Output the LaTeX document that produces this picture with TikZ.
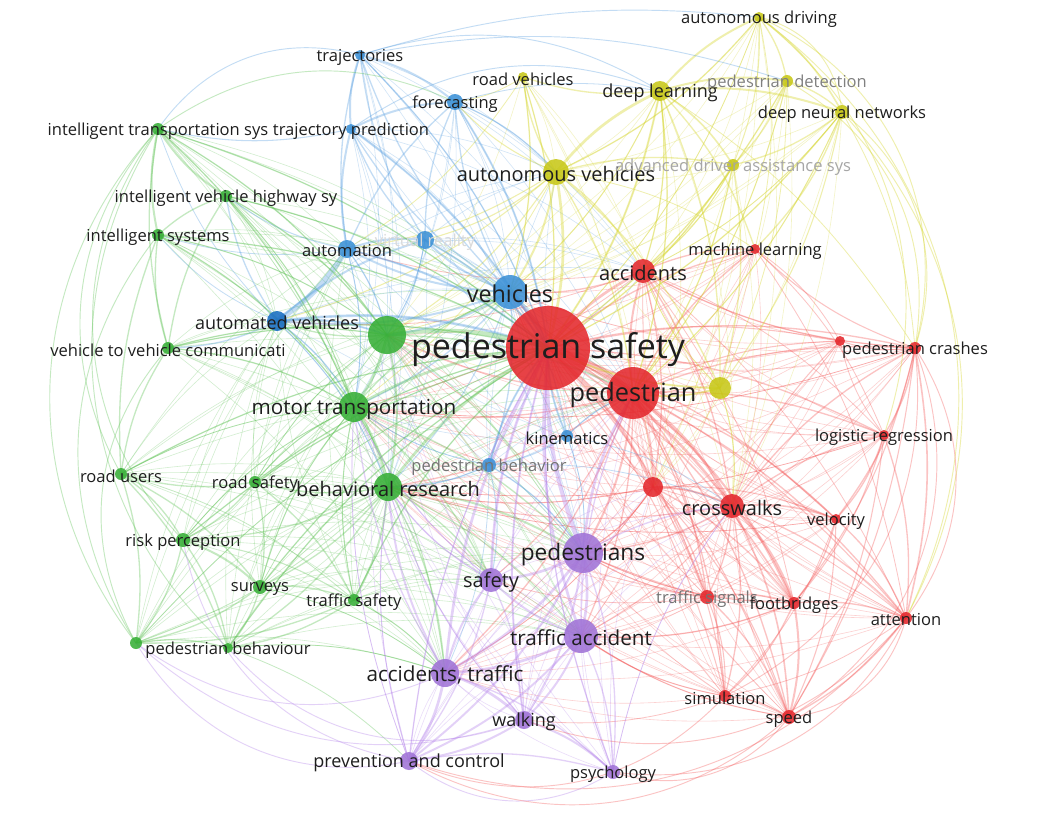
\documentclass[tikz,border=0pt]{standalone}
\usepackage{fontspec}
\setmainfont{Open Sans}
\pgfdeclarelayer{bg}
\pgfdeclarelayer{edges}
\pgfsetlayers{bg,edges,main}
\definecolor{cR}{RGB}{228,40,45}
\definecolor{cG}{RGB}{55,175,55}
\definecolor{cB}{RGB}{60,145,215}
\definecolor{cBd}{RGB}{25,110,195}
\definecolor{cY}{RGB}{200,200,25}
\definecolor{cP}{RGB}{160,115,215}
\definecolor{eRc}{RGB}{245,90,90}
\definecolor{eGc}{RGB}{95,195,85}
\definecolor{eBc}{RGB}{90,160,225}
\definecolor{eYc}{RGB}{215,215,50}
\definecolor{ePc}{RGB}{180,130,235}
\definecolor{txt}{RGB}{30,30,30}
\begin{document}
\begin{tikzpicture}[x=0.75pt,y=-0.75pt,
  nd/.style={circle,inner sep=0pt,draw=none,fill opacity=0.88},
  lbl/.style={inner sep=0pt,text=txt,yshift=-1.5pt},
  eR/.style={draw=eRc,draw opacity=0.36},
  eG/.style={draw=eGc,draw opacity=0.36},
  eB/.style={draw=eBc,draw opacity=0.36},
  eY/.style={draw=eYc,draw opacity=0.4},
  eP/.style={draw=ePc,draw opacity=0.36},
  thin edge/.style={line width=0.45pt,draw opacity=0.28}]
\begin{pgfonlayer}{bg}
\fill[white] (0,0) rectangle (1064,814);
\end{pgfonlayer}
\useasboundingbox (0,0) rectangle (1064,814);
% nodes
\foreach \n/\x/\y/\r/\c in {
 ps/548/348/42/cR, ped/633/393/26/cR, veh/510/292/17/cB, acc/643/271/12/cR,
 av/556/172/13/cY, dl/660/91/10/cY, ad/759/17/5/cY, pd/787/81/6/cY,
 dnn/842/112/7/cY, adas/733/165/6/cY, rv/523/77/5/cY, y1/720/388/11/cY,
 ml/755/249/5/cR, pc/915/348/6/cR, r1/840/341/5/cR, lr/884/435/5/cR,
 cw/732/506/12/cR, vel/836/519/5/cR, r2/653/487/10/cR, ts/707/597/7/cR,
 fb/794/603/6/cR, att/906/618/6/cR, sim/725/696/6/cR, spd/789/717/7/cR,
 kin/567/436/6/cB, pb/489/465/7/cB,
 pds/583/553/20/cP, saf/491/580/12/cP, ta/581/636/17/cP, at/445/673/14/cP,
 walk/524/720/9/cP, pac/409/761/9/cP, psy/613/772/7/cP,
 br/388/487/14/cG, g1/387/335/19/cG, mt/354/407/15/cG, rs/255/482/6/cG,
 ru/121/474/6/cG, rp/183/540/7/cG, sur/260/587/7/cG, tsf/354/600/6/cG,
 pbh/228/648/5/cG, g2/136/643/6/cG, v2v/168/348/6/cG, is/158/235/6/cG,
 ivh/226/196/6/cG, its/158/129/6/cG,
 avh/277/321/10/cBd, auto/347/249/9/cB, vr/425/240/9/cB, traj/360/55/5/cB,
 tp/351/129/5/cB, fc/455/102/8/cB}
  \node[nd,fill=\c,minimum size={(1.5*\r)*1pt}] (\n) at (\x,\y) {};
% edges
\begin{pgfonlayer}{edges}
% cross-cluster thin edges
\foreach \a in {ml,pc,r1,lr,vel,r2,ts,fb,att,sim,spd}
  \foreach \b in {ps,ped,acc,cw,pds,ta,at,veh,br,mt,g1}
    \draw[eR,thin edge] (\a.center) to[bend left=12] (\b.center);
\foreach \a in {ad,pd,dnn,adas,rv,y1,dl}
  \foreach \b in {ps,ped,acc,av,veh,cw,g1,r2}
    \draw[eY,thin edge] (\a.center) to[bend left=12] (\b.center);
\foreach \a in {traj,tp,fc,vr,auto,avh,kin,pb}
  \foreach \b in {ps,ped,veh,g1,mt,br,av,acc,pds}
    \draw[eB,thin edge] (\a.center) to[bend left=12] (\b.center);
\foreach \a in {rs,ru,rp,sur,tsf,pbh,g2,v2v,is,ivh,its}
  \foreach \b in {ps,ped,g1,mt,br,veh,pds,at,ta,saf,avh,auto}
    \draw[eG,thin edge] (\a.center) to[bend left=12] (\b.center);
\foreach \a in {saf,walk,pac,psy}
  \foreach \b in {ps,ped,pds,ta,at,br,mt,cw,g1,r2}
    \draw[eP,thin edge] (\a.center) to[bend left=12] (\b.center);
% main edges
\foreach \a/\b/\w in {
 ps/ped/4, ps/acc/2, ps/cw/2, ps/r2/2, ps/pc/1, ps/lr/1, ps/vel/1, ps/fb/1.2, ps/att/0.8, ps/sim/0.8, ps/spd/0.8, ps/ml/1, ps/ts/1, ps/r1/0.8,
 ped/cw/2, ped/acc/1.5, ped/r2/1.5, ped/pc/1, ped/lr/1, ped/vel/1, ped/fb/1.5, ped/sim/1, ped/spd/1, ped/att/1, ped/ml/1, ped/ts/1, ped/r1/0.8,
 cw/fb/2, cw/vel/1.2, cw/ts/1, cw/att/1, cw/spd/1.2, cw/sim/1, cw/pc/1, cw/lr/1, cw/r1/0.8,
 pc/lr/1, pc/vel/1, pc/att/1.2, pc/r1/0.8, pc/ml/0.8, pc/acc/1, pc/fb/0.8, pc/spd/0.8,
 lr/vel/1, lr/att/1, lr/fb/0.8, lr/spd/0.8, lr/r1/0.6,
 vel/att/1, vel/fb/1, vel/spd/0.8, vel/sim/0.6,
 fb/spd/1.5, fb/sim/1, fb/att/1, ts/fb/1.2, ts/spd/1, ts/sim/0.8, sim/spd/1, att/spd/1, att/sim/0.6,
 acc/ml/1, acc/cw/1, acc/r2/1, acc/lr/0.6, acc/att/0.6, acc/fb/0.6, ml/lr/0.6, ml/att/0.6, ml/r1/0.6,
 r2/cw/1.5, r2/fb/1, r2/ts/1, r2/vel/0.8, r2/spd/0.8, r2/sim/0.8, r2/att/0.6,
 ped/pds/1.5, ped/ta/1, ped/at/1, cw/pds/1, fb/ta/1, spd/ta/0.8, sim/ta/0.8, ts/pds/0.8, acc/veh/1, acc/mt/0.6,
 ped/veh/1.5, ped/br/1, ped/mt/1, ped/g1/1, r2/pds/1, r2/br/0.8, acc/auto/0.6, acc/avh/0.6, pc/mt/0.5, cw/br/0.8,
 lr/br/0.5, vel/br/0.5, ts/saf/0.6, ped/saf/0.8, sim/walk/0.6, fb/pds/0.8, r2/at/0.6, cw/ta/0.8}
  \draw[eR,line width=\w pt] (\a.center) to[bend left=12] (\b.center);
\foreach \a/\b/\w in {
 av/dl/2, av/rv/1, av/adas/1, av/ps/2, av/veh/1.5, av/acc/1, av/ped/1, av/y1/1, av/auto/0.8, av/avh/0.8, av/fc/0.8, av/vr/0.8, av/g1/0.8, av/mt/0.6, av/ml/0.6,
 dl/ad/1.5, dl/pd/1.5, dl/dnn/1.5, dl/adas/1.2, dl/rv/1, dl/ps/1.5, dl/acc/1, dl/ml/1, dl/y1/1, dl/veh/0.8, dl/ped/1, dl/pc/0.6,
 ad/pd/1, ad/dnn/1.2, ad/av/1, ad/adas/0.8, ad/ps/0.6, ad/ml/0.6,
 pd/dnn/1, pd/adas/1, pd/ps/1, pd/ped/0.8, pd/y1/0.6,
 dnn/adas/1, dnn/ml/1, dnn/ps/1, dnn/pc/0.6, dnn/ped/0.8, dnn/y1/0.8, dnn/acc/0.6,
 adas/ps/1, adas/y1/1, adas/ped/1, adas/acc/0.8,
 y1/ps/1.5, y1/ped/1.5, y1/cw/0.8, y1/acc/0.6,
 rv/ps/1, rv/veh/1, rv/fc/0.6, rv/auto/0.6}
  \draw[eY,line width=\w pt] (\a.center) to[bend left=12] (\b.center);
\foreach \a/\b/\w in {
 veh/ps/3, veh/auto/1.5, veh/avh/1.5, veh/vr/1.5, veh/fc/1, veh/traj/1, veh/tp/1, veh/kin/1, veh/pb/1, veh/g1/1.5, veh/mt/1, veh/br/0.8,
 auto/avh/4, auto/vr/1.5, auto/tp/1.5, auto/traj/1, auto/fc/1, auto/ps/1.5, auto/g1/1, auto/mt/0.8, auto/ivh/0.8, auto/is/0.6,
 avh/vr/1.5, avh/ps/2, avh/mt/1, avh/v2v/1, avh/ivh/1, avh/g1/1.5, avh/its/0.6, avh/br/0.8, avh/is/0.6,
 vr/ps/1.5, vr/fc/1, vr/traj/1, vr/tp/1, vr/g1/0.8,
 tp/fc/1.5, tp/traj/1.5, traj/fc/1.5, fc/ps/1.5, fc/av/1, tp/ps/1.5, traj/ps/1, tp/its/0.8, fc/dl/0.6,
 kin/ps/1.5, kin/ped/1, kin/pb/1, kin/cw/0.6, kin/pds/0.6,
 pb/ps/1.5, pb/pds/1, pb/br/1, pb/saf/0.8, pb/cw/0.6, pb/mt/0.6, pb/at/0.6}
  \draw[eB,line width=\w pt] (\a.center) to[bend left=12] (\b.center);
\foreach \a/\b/\w in {
 g1/ps/3, g1/mt/2, g1/br/1.5, mt/ps/2, mt/br/2, mt/saf/1, mt/pds/1, mt/at/0.8,
 br/ps/2, br/rs/1, br/tsf/1.5, br/sur/1, br/rp/1, br/pbh/1, br/pds/1.5, br/at/1, br/saf/1, br/g2/0.6, br/ta/0.8,
 rs/ru/1, rs/rp/1, rs/sur/1, rs/tsf/1, rs/ps/1, rs/mt/0.8, rs/g1/0.6,
 ru/rp/1, ru/sur/1, ru/pbh/1, ru/g2/1, ru/v2v/1, ru/is/1, ru/ps/1, ru/mt/0.6, ru/tsf/0.6,
 rp/sur/1.5, rp/g2/1, rp/pbh/1, rp/ps/1, rp/tsf/0.8, rp/mt/0.6,
 sur/pbh/1, sur/g2/1, sur/tsf/1, sur/ps/1, sur/mt/0.8, sur/at/0.6,
 tsf/pbh/1, tsf/ps/1, tsf/g2/1, tsf/at/0.8, tsf/mt/0.8,
 g2/pbh/1, pbh/ps/1, g2/ps/0.6, pbh/at/0.6, pbh/pac/0.6,
 v2v/is/1, v2v/ivh/1, v2v/its/1, v2v/mt/1, v2v/ps/1, v2v/g1/1,
 is/ivh/1, is/its/1.5, is/ps/1, is/mt/1, is/g1/0.8,
 ivh/its/1.5, ivh/ps/1, ivh/g1/1, ivh/mt/0.8,
 its/ps/1, its/g1/1, its/mt/1,
 g1/avh/1, g1/pds/0.8, g1/ped/1, mt/veh/1}
  \draw[eG,line width=\w pt] (\a.center) to[bend left=12] (\b.center);
\foreach \a/\b/\w in {
 pds/ps/3, pds/saf/2, pds/ta/2, pds/at/2, pds/walk/1.5, pds/pac/1.5, pds/psy/1, pds/ped/2, pds/cw/1,
 ta/at/2, ta/saf/1.5, ta/walk/1.5, ta/pac/1.5, ta/psy/1, ta/ps/2, ta/ped/1,
 at/saf/1.5, at/walk/2, at/pac/2, at/psy/1, at/ps/2, at/br/1.5, at/mt/1,
 saf/ps/2, saf/walk/1, saf/pac/1, saf/br/1, saf/mt/0.8,
 walk/pac/1.5, walk/psy/1.5, walk/ps/1.5, walk/br/0.8,
 pac/psy/1, pac/ps/1, pac/br/0.8, pac/mt/0.6, psy/ps/1, psy/cw/0.6}
  \draw[eP,line width=\w pt] (\a.center) to[bend left=12] (\b.center);
% outer arcs (ordered clockwise, bulging outward)
\foreach \a/\b/\s/\k in {traj/ad/eB/11, its/traj/eB/35, its/fc/eG/30, traj/dl/eB/24, g2/its/eG/40, pbh/its/eG/40, rp/its/eG/40, g2/is/eG/35, ru/its/eG/35, g2/v2v/eG/35,
 pac/g2/eP/35, at/g2/eP/30, pac/rp/eP/35, walk/pbh/eP/35, psy/pac/eP/35, walk/g2/eP/30,
 spd/psy/eR/35, spd/pac/eR/35, att/psy/eR/35, sim/pac/eR/35, att/walk/eR/35, att/pac/eR/35,
 ad/dnn/eY/35, ad/pc/eY/40, ad/att/eY/40, dnn/att/eY/35, pd/pc/eY/35, pc/att/eR/35, pc/spd/eR/40, pc/sim/eR/35, att/spd/eR/35, dnn/pc/eY/35, ad/lr/eY/35,
 traj/pd/eB/14, tp/dl/eB/28}
  \draw[\s,line width=0.7pt] (\a.center) to[bend left=\k] (\b.center);
\end{pgfonlayer}
% labels
\foreach \n/\t/\f/\c in {
 ps/{pedestrian safety}/25.5/txt, ped/{pedestrian}/19/txt, veh/{vehicles}/17.5/txt, acc/{accidents}/15/txt,
 av/{autonomous vehicles}/15/txt, dl/{deep learning}/13.5/txt, ad/{autonomous driving}/12.4/txt,
 pd/{pedestrian detection}/12.4/gray, dnn/{deep neural networks}/12.4/txt, adas/{advanced driver assistance sys}/12.4/black!35,
 rv/{road vehicles}/12.4/txt, ml/{machine learning}/12.4/txt, pc/{pedestrian crashes}/12.4/txt,
 lr/{logistic regression}/12.4/txt, cw/{crosswalks}/15/txt, vel/{velocity}/12.4/txt,
 ts/{traffic signals}/12.4/black!55, fb/{footbridges}/12.4/txt, att/{attention}/12.4/txt,
 sim/{simulation}/12.4/txt, spd/{speed}/12.4/txt, kin/{kinematics}/12.4/txt,
 pb/{pedestrian behavior}/12.4/black!55, pds/{pedestrians}/17/txt, saf/{safety}/15/txt,
 ta/{traffic accident}/15.5/txt, at/{accidents, traffic}/15.5/txt, walk/{walking}/13.5/txt,
 pac/{prevention and control}/13.5/txt, psy/{psychology}/12.4/txt,
 br/{behavioral research}/15/txt, mt/{motor transportation}/15.5/txt, rs/{road safety}/12.4/txt,
 ru/{road users}/12.4/txt, rp/{risk perception}/12.4/txt, sur/{surveys}/12.4/txt,
 tsf/{traffic safety}/12.4/txt, pbh/{pedestrian behaviour}/12.4/txt,
 v2v/{vehicle to vehicle communicati}/12.4/txt, is/{intelligent systems}/12.4/txt,
 ivh/{intelligent vehicle highway sy}/12.4/txt, its/{intelligent transportation sys}/12.4/txt,
 avh/{automated vehicles}/13.5/txt, auto/{automation}/12.4/txt, vr/{virtual reality}/12.4/black!15,
 traj/{trajectories}/12.4/txt, tp/{trajectory prediction}/12.4/txt, fc/{forecasting}/12.4/txt}
  \node[lbl,text=\c,font=\fontsize{\f}{\f}\selectfont] (l\n) at (\n) {\t};
\end{tikzpicture}
\end{document}
